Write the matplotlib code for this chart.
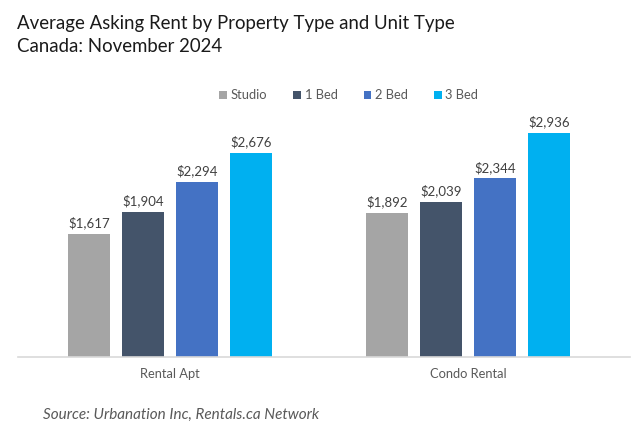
import matplotlib
matplotlib.use("Agg")
import matplotlib.pyplot as plt
import numpy as np

categories = ["Rental Apt", "Condo Rental"]
series = ["Studio", "1 Bed", "2 Bed", "3 Bed"]
studio = [1617, 1892]
bed1 = [1904, 2039]
bed2 = [2294, 2344]
bed3 = [2676, 2936]
colors = ["#A5A5A5", "#44546A", "#4472C4", "#00B0F0"]

plt.rcParams['font.family'] = ['Lato', 'DejaVu Sans']

fig = plt.figure(figsize=(6.4, 4.37), dpi=100)
ax = fig.add_axes([0.028, 0.183, 0.956, 0.577])

x = np.arange(len(categories))
width = 0.1407
step = 0.181
vals = [studio, bed1, bed2, bed3]
for i, (name, v, c) in enumerate(zip(series, vals, colors)):
    pos = x + (i - 1.5) * step
    bars = ax.bar(pos, v, width, color=c, label=name)
    for b, val in zip(bars, v):
        ax.text(b.get_x() + b.get_width() / 2, val + 60, f"${val:,}",
                ha='center', va='bottom', fontsize=9.5, color='#404040')

ax.set_xlim(-0.509, 1.541)
ax.set_ylim(0, 3307)
ax.set_yticks([])
ax.set_xticks(x)
ax.set_xticklabels(categories, fontsize=9.3, color='#595959')
ax.tick_params(axis='x', length=0, pad=8)
for s in ['top', 'right', 'left']:
    ax.spines[s].set_visible(False)
ax.spines['bottom'].set_color('#D9D9D9')
ax.spines['bottom'].set_linewidth(1.2)

fig.text(0.026, 0.965, "Average Asking Rent by Property Type and Unit Type",
         fontsize=13.4, color='#1a1a1a', va='top')
fig.text(0.026, 0.912, "Canada: November 2024",
         fontsize=13.4, color='#1a1a1a', va='top')

leg = fig.legend(loc='center', bbox_to_anchor=(0.545, 0.782), ncol=4, frameon=False,
                 fontsize=9.3, handlelength=0.6, handleheight=0.6, handletextpad=0.3,
                 columnspacing=2.0)
for t in leg.get_texts():
    t.set_color('#595959')

fig.text(0.067, 0.05, "Source: Urbanation Inc, Rentals.ca Network", fontsize=11,
         style='italic', color='#595959', va='center')

fig.savefig("out.png", dpi=100)
